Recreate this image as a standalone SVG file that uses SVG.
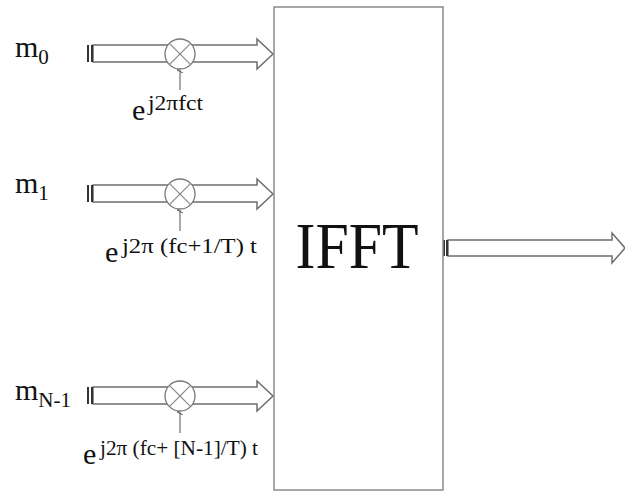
<svg xmlns="http://www.w3.org/2000/svg" width="625" height="496" viewBox="0 0 625 496">
<style>
.arrow{fill:#ffffff;stroke:#6e6e6e;stroke-width:1.5;stroke-linejoin:miter}
.bar{stroke:#333;stroke-width:2}
.mix{fill:#ffffff;stroke:#777;stroke-width:1.3}
.cross{stroke:#888;stroke-width:1.2}
.thin{stroke:#555;stroke-width:1}
.box{fill:#ffffff;stroke:#8a8a8a;stroke-width:1.5}
.lbl{font-family:"Liberation Serif","Times New Roman",serif;fill:#111}
.big{font-size:30px}
.sub{font-size:21px}
.e{font-size:30px}
.sup{font-size:20px}
</style>
<defs>
<marker id="tip" markerWidth="6" markerHeight="6" refX="3" refY="3" orient="auto" markerUnits="userSpaceOnUse">
<path d="M0,6 L3,0 L6,6" fill="none" stroke="#555" stroke-width="1"/>
</marker>
</defs>
<g id="connectors">
<g id="arrow-m0">
<path class="arrow" d="M93,45 H257 V39 L273,54 L257,69 V62 H93 Z"/>
<line class="bar" x1="88" y1="45" x2="88" y2="62"/>
<line class="bar" x1="92" y1="45" x2="92" y2="62"/>
</g>
<g id="arrow-m1">
<path class="arrow" d="M93,185 H257 V179 L273,194 L257,209 V202 H93 Z"/>
<line class="bar" x1="88" y1="185" x2="88" y2="202"/>
<line class="bar" x1="92" y1="185" x2="92" y2="202"/>
</g>
<g id="arrow-mN">
<path class="arrow" d="M93,387 H257 V381 L273,396 L257,411 V404 H93 Z"/>
<line class="bar" x1="88" y1="387" x2="88" y2="404"/>
<line class="bar" x1="92" y1="387" x2="92" y2="404"/>
</g>
<g id="arrow-out">
<path class="arrow" d="M448,240 H612 V233 L625,248 L612,263 V256 H448 Z"/>
<line class="bar" x1="444" y1="240" x2="444" y2="256"/>
<line class="bar" x1="447" y1="240" x2="447" y2="256"/>
</g>
<line class="thin" x1="180" y1="90" x2="180" y2="70" marker-end="url(#tip)"/>
<line class="thin" x1="180" y1="231" x2="180" y2="210" marker-end="url(#tip)"/>
<line class="thin" x1="180" y1="433" x2="180" y2="412" marker-end="url(#tip)"/>
</g>
<g id="mixer-0">
<circle class="mix" cx="180" cy="54" r="15"/>
<line class="cross" x1="169.4" y1="43.4" x2="190.6" y2="64.6"/>
<line class="cross" x1="169.4" y1="64.6" x2="190.6" y2="43.4"/>
</g>
<g id="mixer-1">
<circle class="mix" cx="180" cy="194" r="15"/>
<line class="cross" x1="169.4" y1="183.4" x2="190.6" y2="204.6"/>
<line class="cross" x1="169.4" y1="204.6" x2="190.6" y2="183.4"/>
</g>
<g id="mixer-N">
<circle class="mix" cx="180" cy="396" r="15"/>
<line class="cross" x1="169.4" y1="385.4" x2="190.6" y2="406.6"/>
<line class="cross" x1="169.4" y1="406.6" x2="190.6" y2="385.4"/>
</g>
<g id="ifft">
<rect class="box" x="274" y="7" width="169" height="483"/>
<text class="lbl" x="357" y="268" font-size="66" text-anchor="middle" textLength="123" lengthAdjust="spacingAndGlyphs">IFFT</text>
</g>
<g id="input-m0">
<text class="lbl" x="15" y="57"><tspan class="big">m</tspan><tspan class="sub" dy="7">0</tspan></text>
</g>
<g id="input-m1">
<text class="lbl" x="15" y="193"><tspan class="big">m</tspan><tspan class="sub" dy="7">1</tspan></text>
</g>
<g id="input-mN">
<text class="lbl" x="15" y="400"><tspan class="big">m</tspan><tspan class="sub" dy="7">N-1</tspan></text>
</g>
<g id="carrier-0">
<text class="lbl" x="132" y="120"><tspan class="e">e</tspan></text>
<text class="lbl sup" x="148" y="110" textLength="55" lengthAdjust="spacingAndGlyphs">j2πfct</text>
</g>
<g id="carrier-1">
<text class="lbl" x="105" y="262"><tspan class="e">e</tspan></text>
<text class="lbl sup" x="122" y="253" textLength="135" lengthAdjust="spacingAndGlyphs">j2π (fc+1/T) t</text>
</g>
<g id="carrier-N">
<text class="lbl" x="83" y="464"><tspan class="e">e</tspan></text>
<text class="lbl sup" x="100" y="455" textLength="158" lengthAdjust="spacingAndGlyphs">j2π (fc+ [N-1]/T) t</text>
</g>
</svg>
